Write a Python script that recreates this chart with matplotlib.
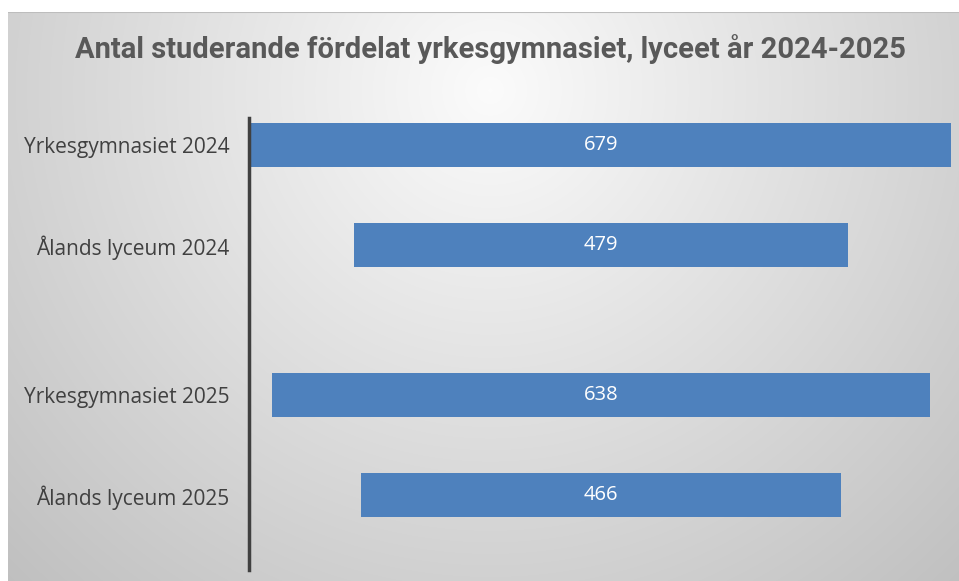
import numpy as np
import matplotlib
matplotlib.use("Agg")
import matplotlib.pyplot as plt

categories = ["Yrkesgymnasiet 2024", "Ålands lyceum 2024", "Yrkesgymnasiet 2025", "Ålands lyceum 2025"]
values = [679, 479, 638, 466]
positions = [0, 1, 2.5, 3.5]
title = "Antal studerande fördelat yrkesgymnasiet, lyceet år 2024-2025"

W, H = 959, 581
fig = plt.figure(figsize=(W / 100, H / 100), dpi=100)
fig.patch.set_facecolor("white")

# background gradient panel (pixel coords relative to panel: panel starts at x=8, y=12)
bg = fig.add_axes([8 / W, 0, 1 - 8 / W, 1 - 12 / H])
bg.set_axis_off()
yy, xx = np.mgrid[0:569, 0:951]
cx, cy = 482, 78
d = np.sqrt((xx - cx) ** 2 + (yy - cy) ** 2)
c = np.clip(0.985 - 0.34 * d / 1000, 0, 1)
img = np.dstack([c, c, c])
bg.imshow(img, aspect="auto", extent=[0, 1, 0, 1], origin="upper")
bg.set_xlim(0, 1)
bg.set_ylim(0, 1)
bg.axhline(1, color="#bdbdbd", lw=1.5)

ax = fig.add_axes([249 / W, 11 / H, (952 - 249) / W, (570 - 118) / H])
ax.patch.set_alpha(0)
vmax = max(values)
lefts = [-v / 2 for v in values]
ax.barh(positions, values, left=lefts, height=0.44, color="#4e81bd")
ax.set_xlim(-vmax / 2 - 2, vmax / 2 + 1)
ax.set_ylim(4.25, -0.27)
for p, v in zip(positions, values):
    ax.text(0, p, str(v), ha="center", va="center", color="white", fontsize=14.5, family="Open Sans")
ax.set_yticks(positions)
ax.set_yticklabels(categories, fontsize=15, color="#404040", family="Open Sans")
ax.tick_params(axis="y", length=0, pad=14)
ax.set_xticks([])
for s in ["top", "right", "bottom"]:
    ax.spines[s].set_visible(False)
ax.spines["left"].set_color("#404040")
ax.spines["left"].set_linewidth(2.5)

fig.text(490 / W, 1 - 49 / H, title, ha="center", va="center", fontsize=21, fontweight="bold",
         color="#595959", family=["Roboto", "DejaVu Sans"], fontstretch="condensed")

fig.savefig("out.png", dpi=100)
